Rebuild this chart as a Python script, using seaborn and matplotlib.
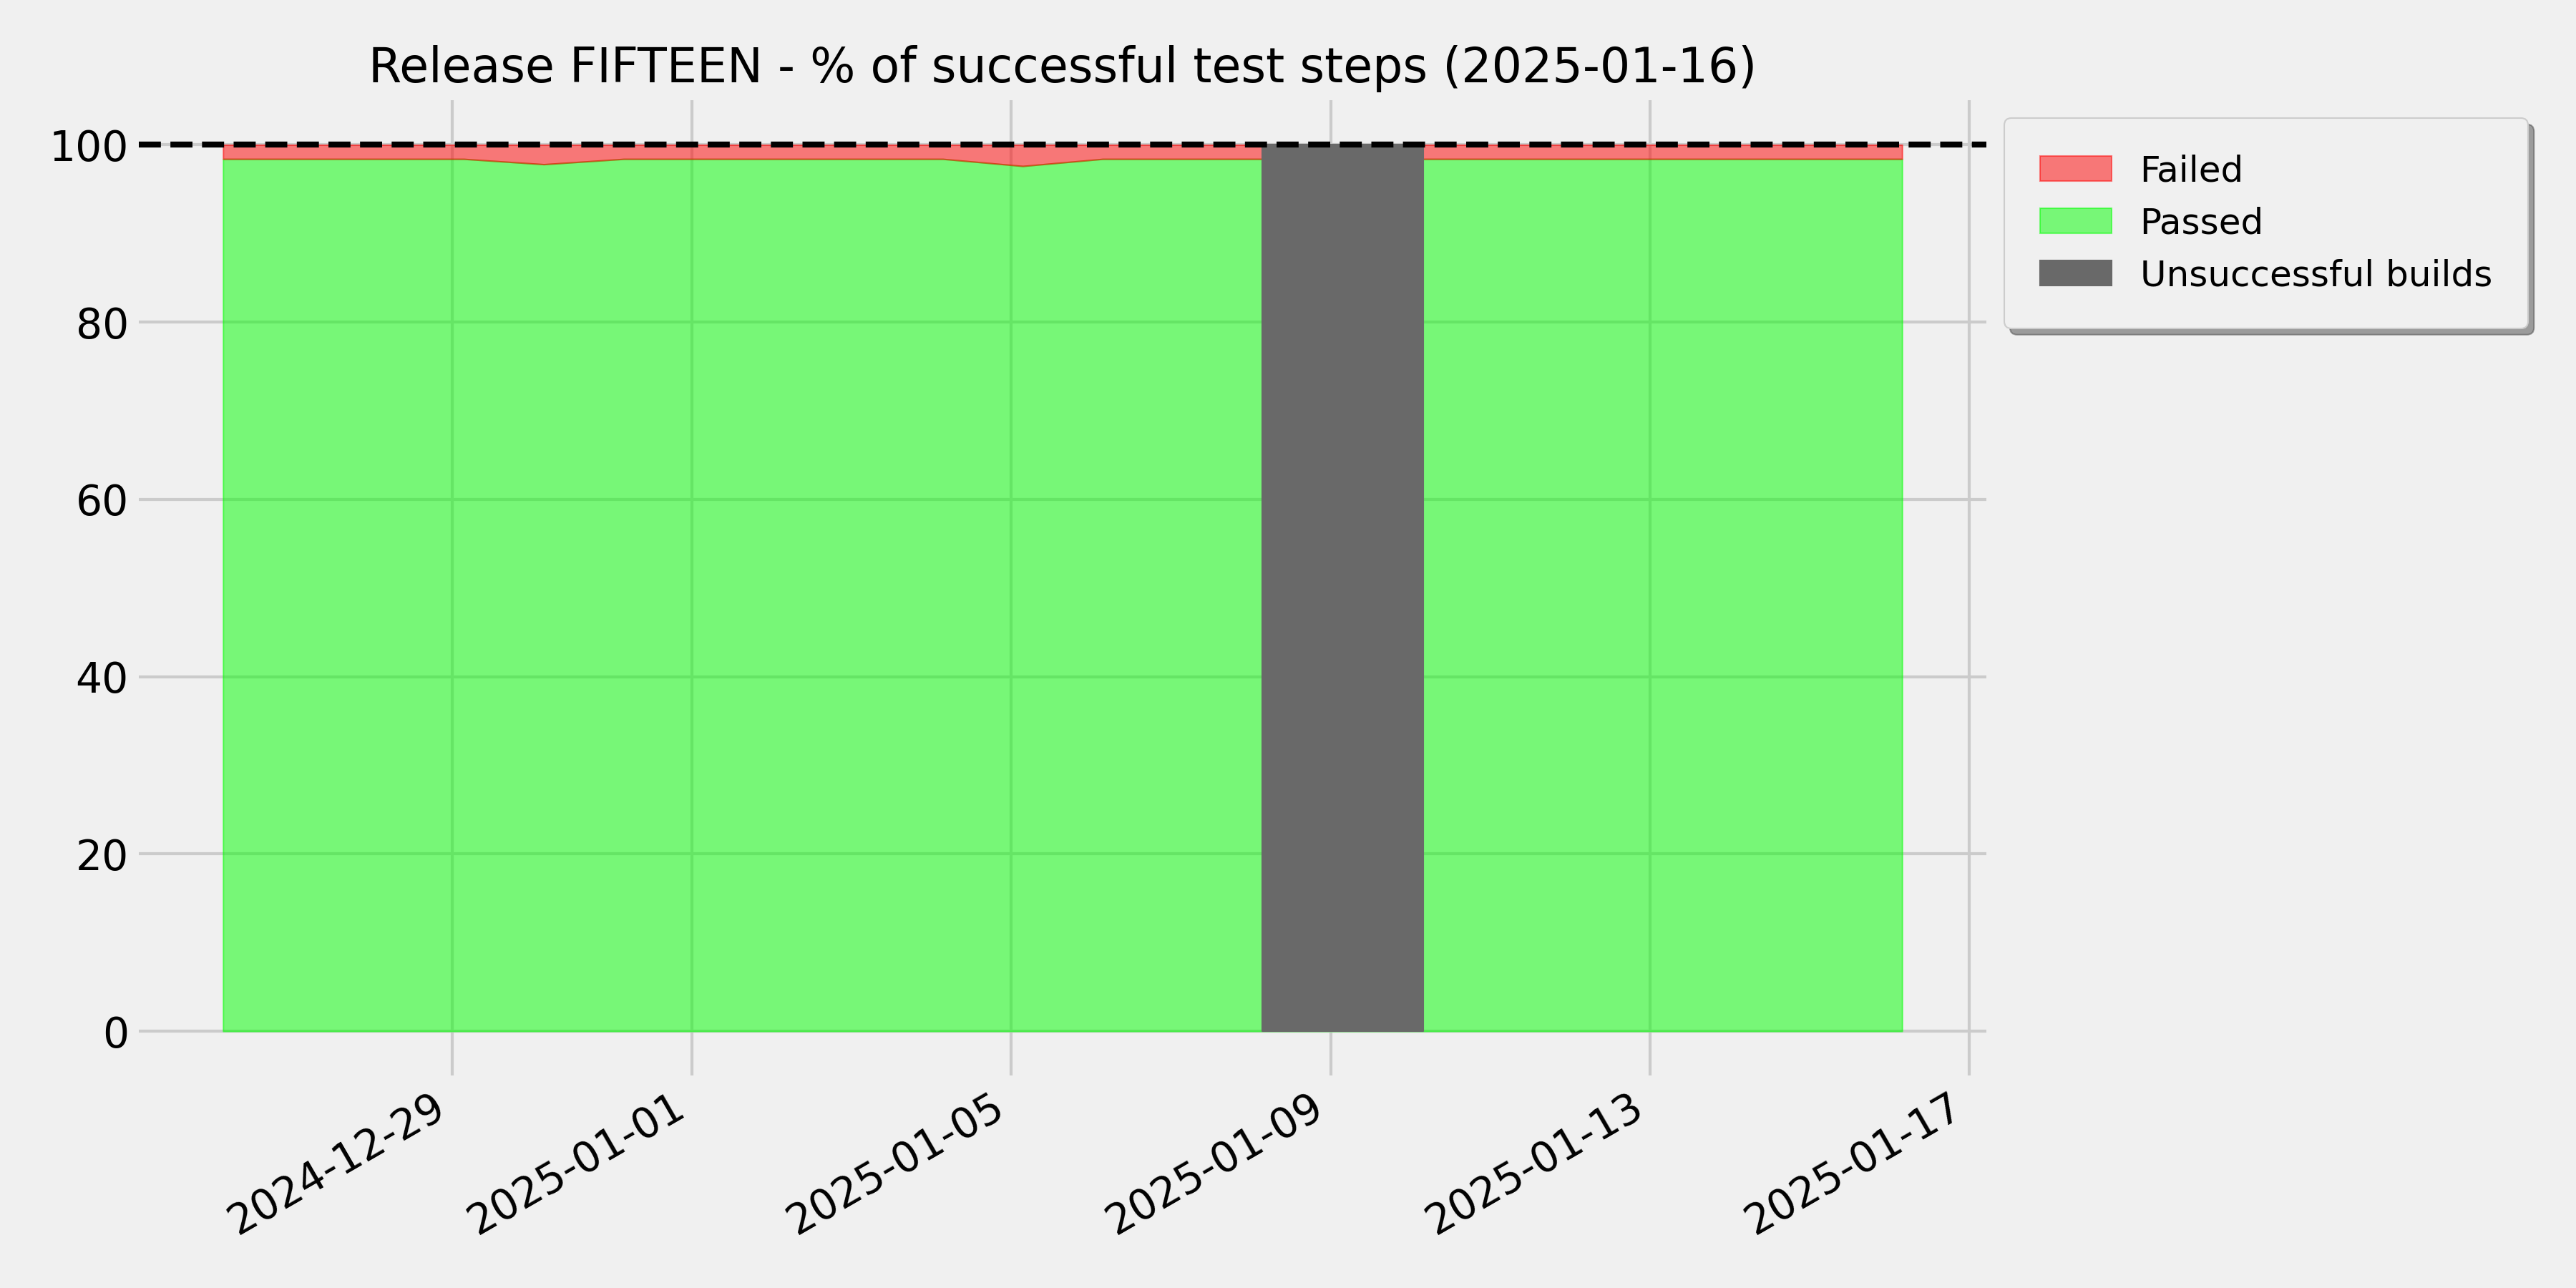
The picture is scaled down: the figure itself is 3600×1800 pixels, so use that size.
import seaborn as sns
import matplotlib.pyplot as plt
import matplotlib.dates as mdates
import pandas as pd
import matplotlib
matplotlib.use('Agg')

# Daily test runs (build on 2025-01-09 failed, no test results)
run_dates = ['2024-12-26', '2024-12-27', '2024-12-28', '2024-12-29', '2024-12-30',
             '2024-12-31', '2025-01-01', '2025-01-02', '2025-01-03', '2025-01-04',
             '2025-01-05', '2025-01-06', '2025-01-07', '2025-01-08', '2025-01-10',
             '2025-01-11', '2025-01-12', '2025-01-13', '2025-01-14', '2025-01-15',
             '2025-01-16']
run_times = ['03:00'] + ['03:26'] * 13 + ['03:50'] * 7
passed_pct = [98.4, 98.4, 98.4, 98.4, 97.8, 98.4, 98.4, 98.4, 98.4, 98.4,
              97.6, 98.4, 98.4, 98.4, 98.4, 98.4, 98.4, 98.4, 98.4, 98.4,
              98.4]
failed_builds = ['2025-01-09']

release = 'FIFTEEN'
report_date = '2025-01-16'

df = pd.DataFrame({'date': pd.to_datetime([d + ' ' + t for d, t in zip(run_dates, run_times)]),
                   'passed': passed_pct})
df['failed'] = 100 - df['passed']

plt.style.use('fivethirtyeight')

fig, ax = plt.subplots(figsize=(12, 6))
sns.despine(left=True, bottom=True)

passed = ax.fill_between(df['date'], 0, df['passed'], color='lime', alpha=0.5,
                         label='Passed')
failed = ax.fill_between(df['date'], df['passed'], 100, color='red', alpha=0.5,
                         label='Failed')

# grey block over each failed build, from the previous run to the next one
for fb in failed_builds:
    fb = pd.Timestamp(fb + ' 12:00')
    prev_run = df.loc[df['date'] < fb, 'date'].max()
    next_run = df.loc[df['date'] > fb, 'date'].min()
    bad = ax.fill_between([prev_run, next_run], 0, 100, color='dimgray',
                          label='Unsuccessful builds', zorder=3)

ax.axhline(100, color='black', linestyle='--', linewidth=2, zorder=4)

ax.set_ylim(-5, 105)
ax.set_title(f'Release {release} - % of successful test steps ({report_date})',
             fontsize=16)
ax.xaxis.set_major_formatter(mdates.DateFormatter('%Y-%m-%d'))
fig.autofmt_xdate()

ax.legend(handles=[failed, passed, bad],
          loc='upper left', bbox_to_anchor=(1, 1), fontsize=12,
          shadow=True, fancybox=True, borderpad=1)

fig.subplots_adjust(left=0.054, right=0.771, top=0.922, bottom=0.165)
plt.savefig('out.png', dpi=300)
plt.close()
